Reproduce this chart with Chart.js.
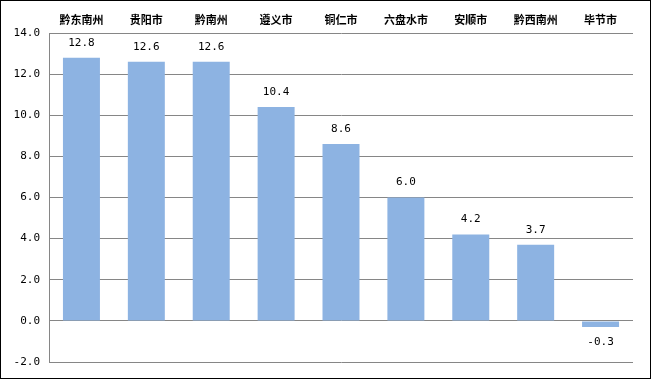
<!DOCTYPE html>
<html>
<head>
<meta charset="utf-8">
<script src="https://cdn.jsdelivr.net/npm/chart.js@4.4.1/dist/chart.umd.min.js"></script>
<style>
html,body{margin:0;padding:0;background:#fff;}
#wrap{position:relative;width:652px;height:380px;}
#c{position:absolute;left:0;top:0;}
#frame{position:absolute;left:0;top:0;width:651px;height:379px;box-sizing:border-box;border:1px solid #000;pointer-events:none;}
</style>
</head>
<body>
<div id="wrap">
<canvas id="c" width="652" height="380"></canvas>
<div id="frame"></div>
</div>
<script>
const categories = ['黔东南州','贵阳市','黔南州','遵义市','铜仁市','六盘水市','安顺市','黔西南州','毕节市'];
const values = [12.8, 12.6, 12.6, 10.4, 8.6, 6.0, 4.2, 3.7, -0.3];
const yMin = -2, yMax = 14, yStep = 2;

const numFont = '"DejaVu Sans Mono", "Liberation Mono", monospace';

const valueLabels = {
  id: 'valueLabels',
  afterDatasetsDraw(chart) {
    const ctx = chart.ctx;
    const meta = chart.getDatasetMeta(0);
    ctx.save();
    ctx.font = '11px ' + numFont;
    ctx.fillStyle = '#000';
    ctx.textAlign = 'center';
    ctx.textBaseline = 'middle';
    meta.data.forEach((bar, i) => {
      const v = values[i];
      const y = v >= 0 ? bar.y - 15 : bar.y + 15;
      ctx.fillText(v.toFixed(1), bar.x, y);
    });
    ctx.restore();
  }
};

new Chart(document.getElementById('c'), {
  type: 'bar',
  data: {
    labels: categories,
    datasets: [{
      data: values,
      backgroundColor: '#8DB3E2',
      borderWidth: 0,
      categoryPercentage: 1,
      barPercentage: 0.57
    }]
  },
  options: {
    responsive: false,
    animation: false,
    devicePixelRatio: 1,
    layout: { padding: { left: 0, right: 19, top: 0, bottom: 18 } },
    plugins: { legend: { display: false }, tooltip: { enabled: false } },
    scales: {
      x: {
        position: 'top',
        grid: { display: false, drawTicks: false },
        border: { display: false },
        ticks: {
          padding: 7,
          color: '#000',
          font: { family: '"Noto Sans CJK SC", sans-serif', size: 11, weight: 'bold' },
          maxRotation: 0,
          autoSkip: false
        },
        afterFit(scale) { scale.height = 33; }
      },
      y: {
        min: yMin,
        max: yMax,
        grid: { color: '#868686', lineWidth: 1, drawTicks: false },
        border: { display: true, color: '#868686', width: 1 },
        ticks: {
          stepSize: yStep,
          padding: 9,
          color: '#000',
          font: { family: numFont, size: 11 },
          callback: (v) => Number(v).toFixed(1)
        },
        afterFit(scale) { scale.width = 49; }
      }
    }
  },
  plugins: [valueLabels]
});
</script>
</body>
</html>
